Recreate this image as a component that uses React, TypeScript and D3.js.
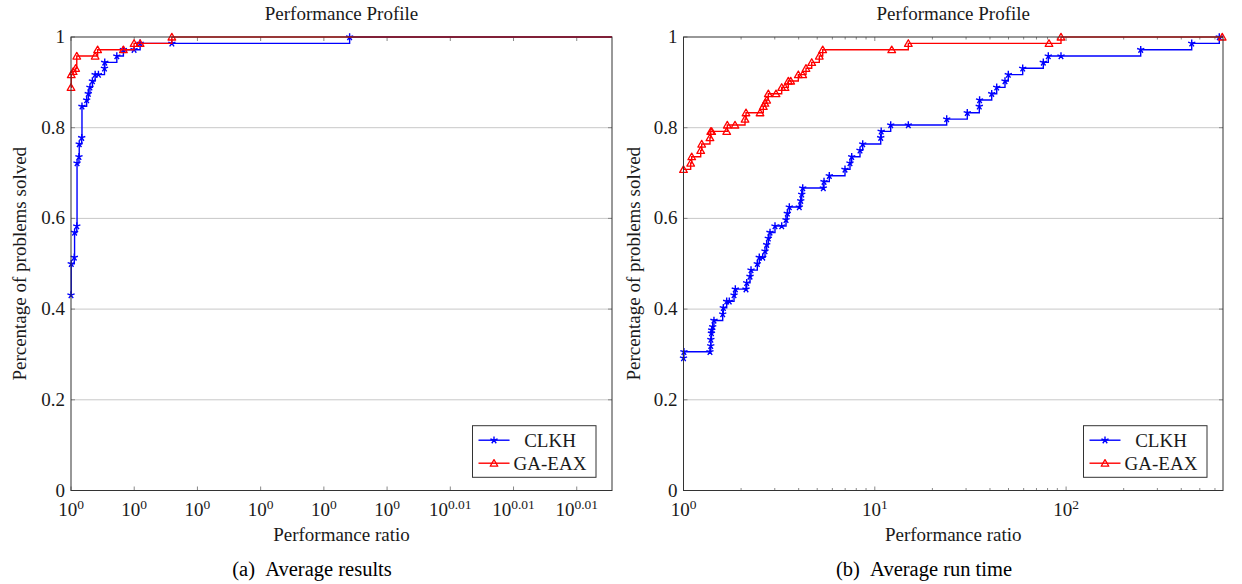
import React from "react";
import * as d3 from "d3";

const FONT = '"Liberation Serif", "DejaVu Serif", "Times New Roman", Times, serif';
const width = 1242;
const height = 584;

// (a) average results: performance ratio / fraction of problems solved
const resultTickExponents = [0, 0.001, 0.002, 0.003, 0.004, 0.005, 0.006, 0.007, 0.008];
const resultTickLabels = ["0", "0", "0", "0", "0", "0", "0.01", "0.01", "0.01"];
const resultRatioMax = 1.0199;

const clkhResultRatio = [1.0, 1.00001, 1.00012, 1.00013, 1.00021, 1.00022, 1.00029, 1.0003, 1.00039, 1.0004, 1.00057, 1.00063, 1.00069, 1.00078, 1.00088, 1.001, 1.00122, 1.00123, 1.00167, 1.00191, 1.0023, 1.00252, 1.00368, 1.0102];
const clkhResultSolved = [0.431, 0.5, 0.514, 0.569, 0.583, 0.722, 0.736, 0.764, 0.778, 0.847, 0.861, 0.875, 0.889, 0.903, 0.917, 0.917, 0.931, 0.944, 0.958, 0.972, 0.972, 0.986, 0.986, 1.0];

const gaResultRatio = [1.0, 1.00001, 1.00008, 1.00017, 1.00021, 1.00088, 1.00097, 1.00191, 1.0023, 1.00252, 1.00368];
const gaResultSolved = [0.889, 0.917, 0.924, 0.931, 0.958, 0.958, 0.972, 0.972, 0.986, 0.986, 1.0];

// (b) average run time
const runTickValues = [1, 10, 100];
const runTickLabels = ["0", "1", "2"];
const runMinorTicks = [2, 3, 4, 5, 6, 7, 8, 9, 20, 30, 40, 50, 60, 70, 80, 90, 200, 300, 400, 500, 600];
const runRatioMax = 661;

const clkhRunRatio = [1.0, 1.005, 1.375, 1.388, 1.39, 1.4, 1.404, 1.421, 1.443, 1.603, 1.615, 1.682, 1.735, 1.837, 1.866, 2.122, 2.14, 2.227, 2.254, 2.431, 2.49, 2.594, 2.667, 2.722, 2.776, 2.833, 3.008, 3.261, 3.435, 3.489, 3.574, 4.031, 4.101, 4.15, 4.2, 5.382, 5.427, 5.783, 6.986, 7.419, 7.573, 8.368, 8.646, 10.74, 10.8, 12.11, 14.97, 23.76, 30.44, 35.18, 35.3, 40.85, 43.38, 47.93, 49.88, 59.31, 76.02, 80.72, 94.04, 245.5, 453.6, 632.1];
const clkhRunSolved = [0.292, 0.306, 0.306, 0.319, 0.333, 0.347, 0.354, 0.361, 0.375, 0.389, 0.403, 0.417, 0.417, 0.431, 0.444, 0.444, 0.458, 0.472, 0.486, 0.5, 0.514, 0.514, 0.528, 0.542, 0.556, 0.569, 0.583, 0.583, 0.597, 0.611, 0.625, 0.625, 0.639, 0.653, 0.667, 0.667, 0.681, 0.694, 0.708, 0.722, 0.736, 0.75, 0.764, 0.778, 0.792, 0.806, 0.806, 0.819, 0.833, 0.847, 0.861, 0.875, 0.889, 0.903, 0.917, 0.931, 0.944, 0.958, 0.958, 0.972, 0.986, 1.0];

const gaRunRatio = [1.0, 1.09, 1.104, 1.23, 1.245, 1.375, 1.388, 1.404, 1.682, 1.694, 1.859, 2.097, 2.122, 2.512, 2.613, 2.667, 2.722, 2.776, 3.045, 3.261, 3.394, 3.531, 3.635, 3.983, 4.2, 4.369, 4.68, 5.128, 5.343, 12.26, 14.97, 81.39, 94.04, 655];
const gaRunSolved = [0.708, 0.722, 0.736, 0.75, 0.764, 0.778, 0.792, 0.792, 0.792, 0.806, 0.806, 0.819, 0.833, 0.833, 0.847, 0.854, 0.861, 0.875, 0.875, 0.889, 0.889, 0.903, 0.903, 0.917, 0.917, 0.931, 0.944, 0.958, 0.972, 0.972, 0.986, 0.986, 1.0, 1.0];

const yTicks = [0, 0.2, 0.4, 0.6, 0.8, 1];
const yTickLabels = ["0", "0.2", "0.4", "0.6", "0.8", "1"];
const seriesNames = ["CLKH", "GA-EAX"];

const top = 37;
const bottom = 490.5;

const starPath = (r: number) => {
  let d = "";
  for (let k = 0; k < 5; k++) {
    const a = -Math.PI / 2 + (k * 2 * Math.PI) / 5;
    d += `M0,0L${(r * Math.cos(a)).toFixed(2)},${(r * Math.sin(a)).toFixed(2)}`;
  }
  return d;
};

const trianglePath = (r: number) => {
  const pts = [-90, 30, 150].map((deg) => {
    const a = (deg * Math.PI) / 180;
    return `${(r * Math.cos(a)).toFixed(2)},${(r * Math.sin(a)).toFixed(2)}`;
  });
  return `M${pts.join("L")}Z`;
};

const Marker = ({ kind, x, y, color }: { kind: string; x: number; y: number; color: string }) =>
  kind === "star" ? (
    <path d={starPath(3.8)} transform={`translate(${x},${y})`} stroke={color} strokeWidth={1.4} fill="none" />
  ) : (
    <path d={trianglePath(4.4)} transform={`translate(${x},${y + 0.8})`} stroke={color} strokeWidth={1.3} fill="none" strokeLinejoin="round" />
  );

type Series = { ratio: number[]; solved: number[]; color: string; mark: string };

type PanelProps = {
  left: number;
  right: number;
  xScale: d3.ScaleLogarithmic<number, number>;
  major: { value: number; label: string }[];
  minor: number[];
  series: Series[];
  caption: string;
  captionX: number;
  ylabelX: number;
};

function Panel({ left, right, xScale, major, minor, series, caption, captionX, ylabelX }: PanelProps) {
  const yScale = d3.scaleLinear().domain([0, 1]).range([bottom, top]);
  const xMax = xScale.domain()[1];
  const line = d3
    .line<[number, number]>()
    .x((d) => xScale(d[0]))
    .y((d) => yScale(d[1]))
    .curve(d3.curveStepAfter);
  const cx = (left + right) / 2;
  const legendLeft = right - 139.5;
  const legendTop = bottom - 64.8;
  const txt = { fontFamily: FONT, fill: "#1a1a1a" };

  return (
    <g style={txt}>
      <text x={cx} y={20} textAnchor="middle" fontSize={19} style={txt}>
        Performance Profile
      </text>

      {/* grid */}
      {yTicks.slice(1, -1).map((t) => (
        <line key={"g" + t} x1={left} x2={right} y1={yScale(t)} y2={yScale(t)} stroke="#c8c8c8" strokeWidth={1} />
      ))}

      {/* ticks */}
      {yTicks.map((t) => (
        <g key={"yt" + t}>
          <line x1={left} x2={left + 4} y1={yScale(t)} y2={yScale(t)} stroke="#888" />
          <line x1={right - 4} x2={right} y1={yScale(t)} y2={yScale(t)} stroke="#888" />
        </g>
      ))}
      {major.map((t) => (
        <g key={"xt" + t.value}>
          <line x1={xScale(t.value)} x2={xScale(t.value)} y1={bottom} y2={bottom - 4} stroke="#888" />
          <line x1={xScale(t.value)} x2={xScale(t.value)} y1={top} y2={top + 4} stroke="#888" />
        </g>
      ))}
      {minor.map((v) => (
        <g key={"mt" + v}>
          <line x1={xScale(v)} x2={xScale(v)} y1={bottom} y2={bottom - 2.5} stroke="#888" />
          <line x1={xScale(v)} x2={xScale(v)} y1={top} y2={top + 2.5} stroke="#888" />
        </g>
      ))}

      {/* series */}
      {series.map((s, i) => {
        const pts: [number, number][] = s.ratio.map((r, j) => [r, s.solved[j]]);
        const ext: [number, number][] = [...pts, [xMax, s.solved[s.solved.length - 1]]];
        return (
          <g key={"s" + i}>
            <path d={line(ext) || ""} stroke={s.color} strokeWidth={1.4} fill="none" />
            {pts.map((p, j) => (
              <Marker key={j} kind={s.mark} x={xScale(p[0])} y={yScale(p[1])} color={s.color} />
            ))}
          </g>
        );
      })}

      {/* frame */}
      <rect x={left} y={top} width={right - left} height={bottom - top} fill="none" stroke="#333" strokeWidth={1} />

      {/* tick labels */}
      {yTicks.map((t, i) => (
        <text key={"yl" + t} x={left - 6} y={yScale(t) + 6} textAnchor="end" fontSize={19} style={txt}>
          {yTickLabels[i]}
        </text>
      ))}
      {major.map((t) => (
        <text key={"xl" + t.value} x={xScale(t.value)} y={516} textAnchor="middle" fontSize={19} style={txt}>
          10
          <tspan dy={-7} fontSize={13.5}>
            {t.label}
          </tspan>
        </text>
      ))}

      <text x={cx} y={541} textAnchor="middle" fontSize={19} style={txt}>
        Performance ratio
      </text>
      <text
        transform={`translate(${ylabelX},${(top + bottom) / 2}) rotate(-90)`}
        textAnchor="middle"
        fontSize={19}
        style={txt}
      >
        Percentage of problems solved
      </text>

      {/* legend */}
      <rect x={legendLeft} y={legendTop} width={123.5} height={51.6} fill="white" stroke="#333" strokeWidth={1} />
      {series.map((s, i) => {
        const ly = legendTop + 14.5 + i * 23;
        return (
          <g key={"l" + i}>
            <line x1={legendLeft + 6} x2={legendLeft + 37} y1={ly} y2={ly} stroke={s.color} strokeWidth={1.4} />
            <Marker kind={s.mark} x={legendLeft + 21.5} y={ly} color={s.color} />
            <text x={legendLeft + 77.5} y={ly + 6.5} textAnchor="middle" fontSize={19} style={txt}>
              {seriesNames[i]}
            </text>
          </g>
        );
      })}

      <text x={captionX} y={576} textAnchor="middle" fontSize={20.5} style={{ ...txt, fill: "#000" }}>
        {caption}
      </text>
    </g>
  );
}

export default function App() {
  const resultScale = d3.scaleLog().domain([1, resultRatioMax]).range([71, 612]);
  const runScale = d3.scaleLog().domain([1, runRatioMax]).range([683.5, 1223]);

  const resultMajor = resultTickExponents.map((e, i) => ({ value: Math.pow(10, e), label: resultTickLabels[i] }));
  const runMajor = runTickValues.map((v, i) => ({ value: v, label: runTickLabels[i] }));

  return (
    <svg
      width={width}
      height={height}
      style={{ position: "absolute", left: 0, top: 0, background: "white" }}
    >
      <Panel
        left={71}
        right={612}
        xScale={resultScale}
        major={resultMajor}
        minor={[]}
        series={[
          { ratio: clkhResultRatio, solved: clkhResultSolved, color: "#0000ff", mark: "star" },
          { ratio: gaResultRatio, solved: gaResultSolved, color: "#ff0000", mark: "triangle" },
        ]}
        caption={"(a)\u00a0\u00a0Average results"}
        captionX={312}
        ylabelX={26}
      />
      <Panel
        left={683.5}
        right={1223}
        xScale={runScale}
        major={runMajor}
        minor={runMinorTicks}
        series={[
          { ratio: clkhRunRatio, solved: clkhRunSolved, color: "#0000ff", mark: "star" },
          { ratio: gaRunRatio, solved: gaRunSolved, color: "#ff0000", mark: "triangle" },
        ]}
        caption={"(b)\u00a0\u00a0Average run time"}
        captionX={924}
        ylabelX={640}
      />
    </svg>
  );
}
